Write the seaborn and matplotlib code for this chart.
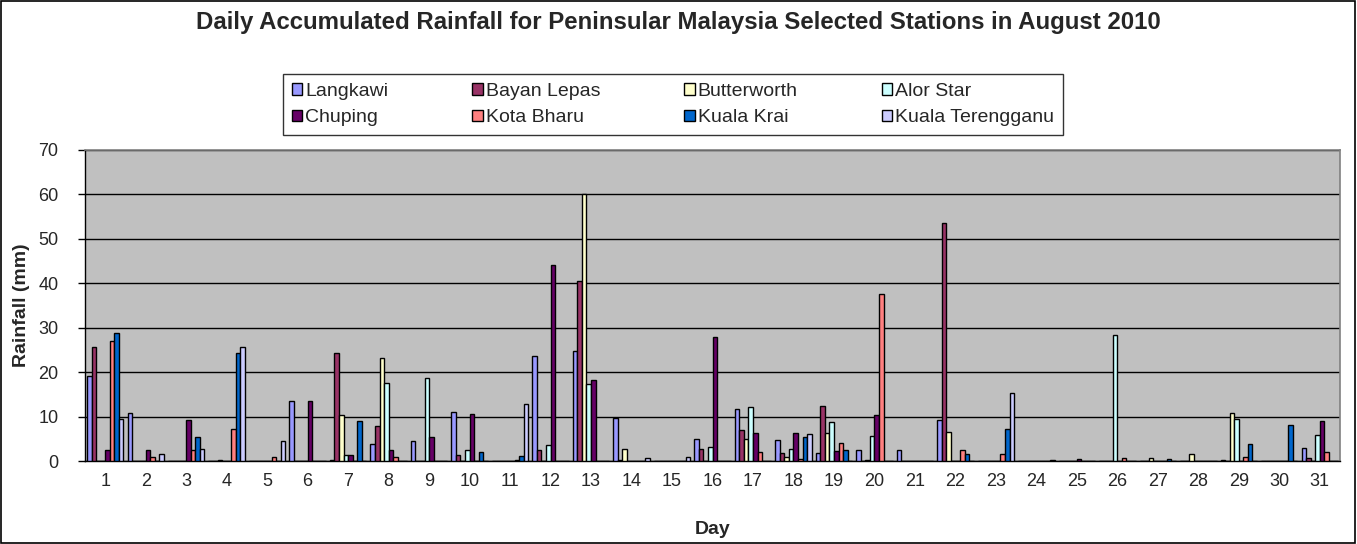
import numpy as np
import pandas as pd
import matplotlib
matplotlib.use("Agg")
import matplotlib.pyplot as plt
import seaborn as sns
from matplotlib.patches import Rectangle

days = [str(d) for d in range(1, 32)]
stations = ["Langkawi", "Bayan Lepas", "Butterworth", "Alor Star",
            "Chuping", "Kota Bharu", "Kuala Krai", "Kuala Terengganu"]

langkawi = [19.2, 10.8, 0, 0, 0, 13.5, 0.2, 3.9, 4.4, 11.1, 0, 23.7, 24.7, 9.6, 0, 4.9,
            11.8, 4.7, 1.7, 2.4, 2.5, 9.2, 0, 0, 0, 0, 0, 0, 0.2, 0, 2.9]
bayan_lepas = [25.6, 0.1, 0, 0, 0, 0, 24.2, 7.9, 0, 1.3, 0, 2.4, 40.6, 0.2, 0, 2.8,
               7.0, 1.7, 12.4, 0, 0, 53.5, 0, 0, 0, 0, 0, 0, 0, 0, 0.75]
butterworth = [0.1, 0, 0, 0.2, 0, 0, 10.3, 23.2, 0, 0, 0, 0, 60.2, 2.8, 0, 0,
               4.9, 0.9, 6.4, 0.3, 0, 6.6, 0, 0, 0, 0, 0.75, 1.5, 10.7, 0, 0]
alor_star = [0, 0, 0, 0, 0, 0, 1.35, 17.5, 18.6, 2.4, 0, 3.6, 17.4, 0, 0, 3.2,
             12.2, 2.8, 8.8, 5.6, 0, 0, 0, 0, 0, 28.4, 0, 0, 9.5, 0, 5.9]
chuping = [2.4, 2.4, 9.2, 0, 0, 13.5, 1.35, 2.4, 5.5, 10.5, 0, 44.2, 18.3, 0, 0, 28.0,
           6.2, 6.4, 2.3, 10.4, 0, 0, 0, 0, 0.4, 0, 0, 0, 0, 0, 9.0]
kota_bharu = [27.1, 0.9, 2.5, 7.1, 0.8, 0, 0, 0.9, 0, 0, 0.2, 0, 0, 0, 0, 0,
              2.1, 0.5, 4.1, 37.6, 0, 2.4, 1.5, 0, 0, 0.75, 0, 0, 1.0, 0, 2.1]
kuala_krai = [28.9, 0, 5.5, 24.4, 0, 0, 8.9, 0, 0, 2.0, 1.05, 0, 0, 0, 0, 0,
              0, 5.3, 2.4, 0.1, 0, 1.5, 7.1, 0, 0, 0, 0.4, 0, 3.9, 8.1, 0]
kuala_terengganu = [9.5, 1.5, 2.8, 25.6, 4.4, 0, 0, 0, 0, 0, 12.8, 0, 0, 0.7, 1.0, 0,
                    0, 6.0, 0, 0, 0, 0, 15.4, 0.2, 0, 0, 0, 0, 0, 0, 0]

series = [langkawi, bayan_lepas, butterworth, alor_star,
          chuping, kota_bharu, kuala_krai, kuala_terengganu]
colors = ["#9999FF", "#993366", "#FFFFCC", "#CCFFFF",
          "#660066", "#FF8080", "#0066CC", "#CCCCFF"]

rows = []
for st, vals in zip(stations, series):
    for d, v in zip(days, vals):
        rows.append({"Day": d, "Rainfall": v, "Station": st})
df = pd.DataFrame(rows)

sns.set_theme(style="white")
plt.rcParams['font.family'] = ['Liberation Sans', 'DejaVu Sans']

W, H = 1357, 544
fig = plt.figure(figsize=(W / 100, H / 100), dpi=100)
fig.patch.set_facecolor("white")
fig.patches.append(Rectangle((0.0005, 0.001), 0.998, 0.997, transform=fig.transFigure,
                             fill=False, edgecolor="black", linewidth=1.2))

ax = fig.add_axes([85 / W, 1 - 461 / H, (1340 - 85) / W, (461 - 150) / H])
ax.set_facecolor("#C0C0C0")

sns.barplot(data=df, x="Day", y="Rainfall", hue="Station", order=days,
            hue_order=stations, palette=dict(zip(stations, colors)),
            saturation=1, width=0.9, edgecolor="black", linewidth=1.0,
            errorbar=None, ax=ax, legend=False, zorder=3)

ax.set_ylim(0, 70)
ax.set_xlim(-0.5, 30.5)
ax.set_yticks(np.arange(0, 71, 10))
ax.yaxis.grid(True, color="black", linewidth=1.0, zorder=0)
ax.set_axisbelow(True)
for s in ["top", "right"]:
    ax.spines[s].set_color("#808080")
    ax.spines[s].set_linewidth(1.2)
for s in ["left", "bottom"]:
    ax.spines[s].set_color("black")
    ax.spines[s].set_linewidth(1.0)

ax.set_xticks(np.arange(31))
ax.set_xticklabels(days)
ax.set_xticks(np.arange(-0.5, 31, 1), minor=True)
ax.tick_params(axis="x", which="major", length=0, pad=9, labelsize=13)
ax.tick_params(axis="x", which="minor", length=6, width=1, color="black", direction="out")
ax.tick_params(axis="y", which="major", length=5, width=1, color="black",
               direction="out", left=True, pad=14, labelsize=13)

ax.set_xlabel("Day", fontsize=14, fontweight="bold", labelpad=22)
ax.set_ylabel("Rainfall (mm)", fontsize=14, fontweight="bold", labelpad=6)

fig.text(0.5, 1 - 22 / H, "Daily Accumulated Rainfall for Peninsular Malaysia Selected Stations in August 2010",
         ha="center", va="center", fontsize=17.3, fontweight="bold")

handles = [Rectangle((0, 0), 1, 1, facecolor=c, edgecolor="black", linewidth=1.0) for c in colors]
order = [0, 4, 1, 5, 2, 6, 3, 7]
leg = fig.legend([handles[i] for i in order], [stations[i] for i in order],
                 loc="lower left", ncol=4, mode="expand",
                 bbox_to_anchor=(283 / W, 1 - 135 / H, 780 / W, 70 / H),
                 frameon=True, fancybox=False, edgecolor="black",
                 prop={"size": 14},
                 handlelength=0.55, handleheight=0.55, handletextpad=0.15,
                 borderaxespad=0, borderpad=0.45, labelspacing=0.5)
leg.get_frame().set_linewidth(1.0)

fig.savefig("out.png", dpi=100)
